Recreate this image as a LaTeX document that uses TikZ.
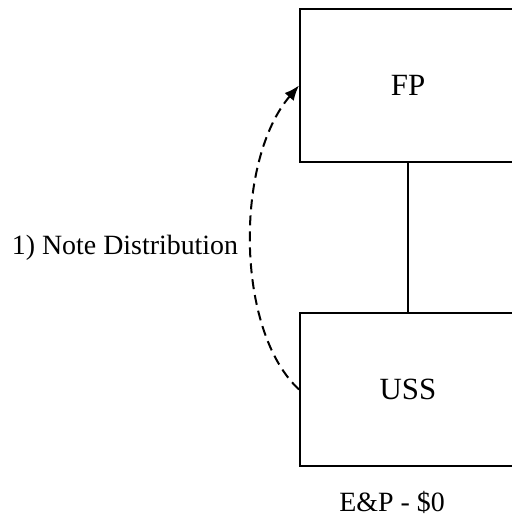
\documentclass[tikz,border=0pt]{standalone}
\usepackage{fontspec}
\setmainfont{Liberation Serif}
\usetikzlibrary{arrows.meta,positioning}
\newcommand{\entbox}{\fontsize{31}{36}\selectfont}
\newcommand{\notefont}{\fontsize{28}{32}\selectfont}

\begin{document}
\begin{tikzpicture}[x=1bp, y=-1bp,
    entity/.style={draw, line width=2bp, minimum width=216bp, minimum height=153bp, font=\entbox},
    flow/.style={line width=2bp, dash pattern=on 10bp off 6bp, -{Latex[length=15bp, width=12bp]}}]
    \useasboundingbox (0,0) rectangle (512,517);
    \node[entity] (fp) at (408,85.5) {FP};
    \node[entity] (uss) at (408,389.5) {USS};
    \draw[line width=2bp] (fp.south) -- (uss.north);
    \draw[flow] (uss.west) .. controls (235,330) and (235,160) .. (fp.west);
    \node[font=\notefont] (note) at (125,248) {1) Note Distribution};
    \node[font=\notefont, inner sep=0pt] (ep) at (392,502) {E\&P - \$0};
\end{tikzpicture}
\end{document}
